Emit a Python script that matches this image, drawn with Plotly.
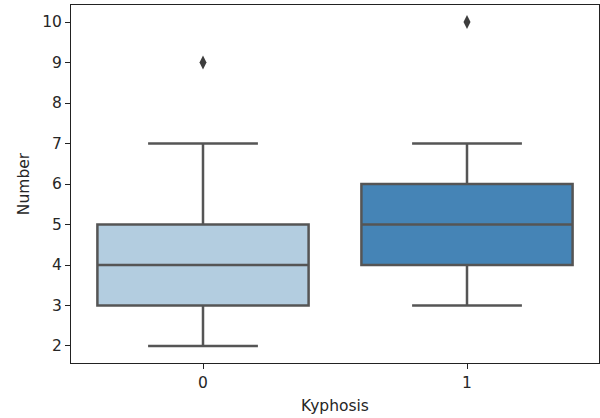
import plotly.graph_objects as go

categories = ["0", "1"]
q1 = [3, 4]
median = [4, 5]
q3 = [5, 6]
lower = [2, 3]
upper = [7, 7]
outliers = [[9], [10]]
colors = ["#b3cde0", "#4584b6"]
line_color = "#555555"

FONT = dict(family="DejaVu Sans", size=15.5, color="#262626")

fig = go.Figure()
for i, c in enumerate(categories):
    fig.add_trace(go.Box(
        x=[c], q1=[q1[i]], median=[median[i]], q3=[q3[i]],
        lowerfence=[lower[i]], upperfence=[upper[i]],
        width=0.8, whiskerwidth=0.52,
        fillcolor=colors[i], line=dict(color=line_color, width=2.5),
        boxpoints=False, showlegend=False, hoverinfo="skip",
    ))
    fig.add_trace(go.Scatter(
        x=[c] * len(outliers[i]), y=outliers[i], mode="markers",
        marker=dict(symbol="diamond-tall", size=10, color="#3d3d3d"),
        showlegend=False, hoverinfo="skip",
    ))

axis_common = dict(showline=True, linecolor="#222", linewidth=1, mirror=True,
                   ticks="outside", ticklen=5, tickcolor="#222", showgrid=False,
                   zeroline=False, tickfont=FONT)
fig.update_layout(
    width=600, height=418,
    margin=dict(l=71, r=1, t=5, b=55),
    plot_bgcolor="white", paper_bgcolor="white",
    xaxis=dict(title=dict(text="Kyphosis", font=FONT, standoff=9),
               type="category", range=[-0.5, 1.5], **axis_common),
    yaxis=dict(title=dict(text="Number", font=FONT, standoff=8),
               range=[1.58, 10.42], tickvals=list(range(2, 11)), **axis_common),
)
fig.write_html("out.html")
